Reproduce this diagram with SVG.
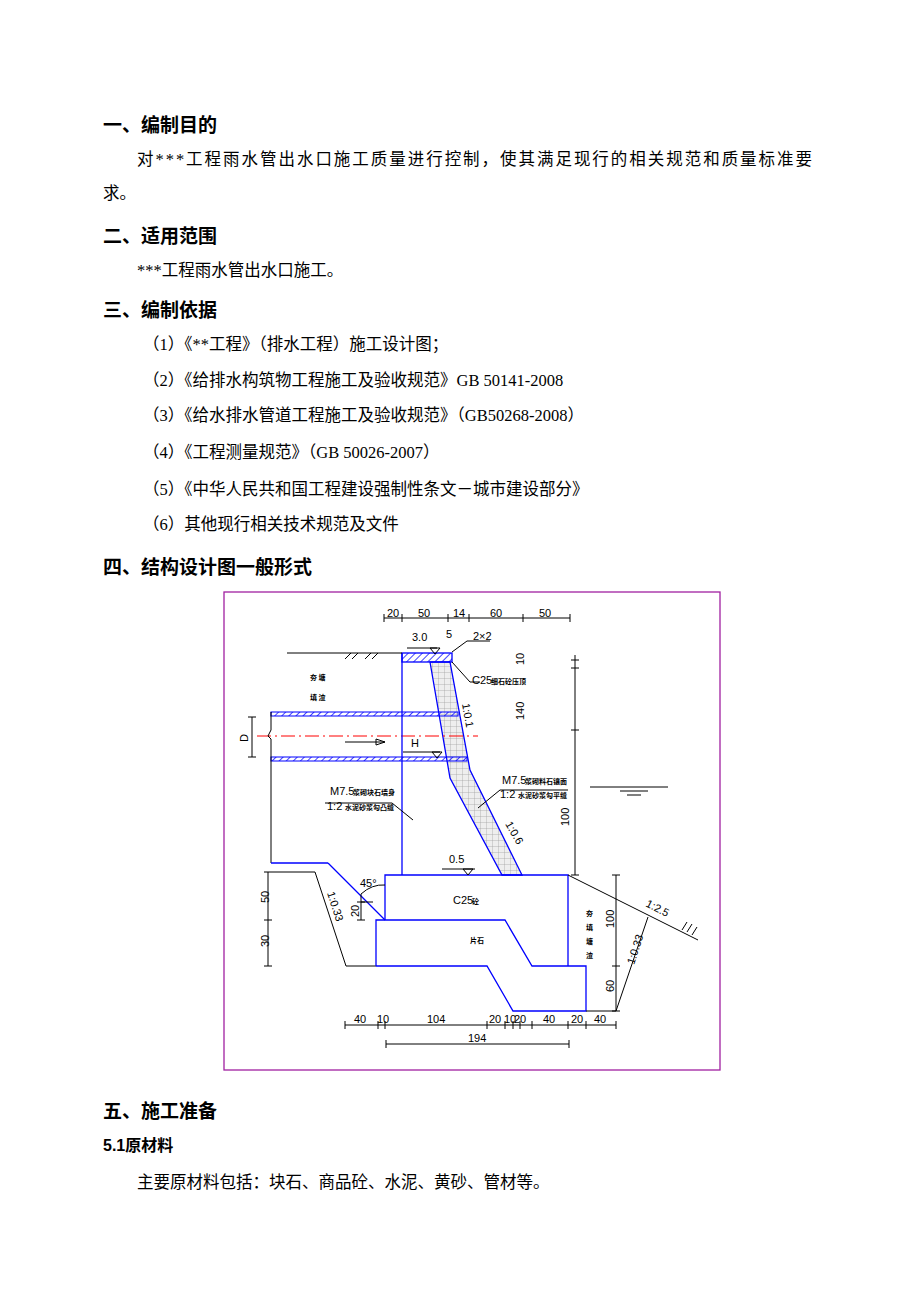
<svg xmlns="http://www.w3.org/2000/svg" width="920" height="1302" viewBox="0 0 920 1302">
<style>
.h{font-family:"Liberation Sans","Noto Sans CJK SC",sans-serif;font-weight:bold;font-size:19px;fill:#000}
.t{font-family:"Liberation Serif","Noto Sans CJK SC",serif;font-size:16.5px;fill:#000}
.d{font-family:"Liberation Sans Narrow","Liberation Sans",sans-serif;font-size:11px;fill:#000}
.s{font-family:"Noto Sans CJK SC",sans-serif;font-size:7px;font-weight:bold;fill:#000}
.k{stroke:#000;stroke-width:1;fill:none}
.b{stroke:#00f;stroke-width:1.3;fill:none}
</style>
<defs>
<pattern id="hat" width="5" height="5" patternUnits="userSpaceOnUse" patternTransform="rotate(45)"><line x1="0" y1="0" x2="0" y2="5" stroke="#00f" stroke-width="1.5"/></pattern>
<pattern id="grid" width="6" height="6" patternUnits="userSpaceOnUse"><rect width="6" height="6" fill="#eee"/><path d="M0 0H6M0 0V6" stroke="#999" stroke-width="0.7"/></pattern>
</defs>
<rect width="920" height="1302" fill="#fff"/>
<g id="text">
<text class="h" x="103" y="132">一、编制目的</text>
<text class="t" x="137" y="165" textLength="675" lengthAdjust="spacing">对***工程雨水管出水口施工质量进行控制，使其满足现行的相关规范和质量标准要</text>
<text class="t" x="103" y="199">求。</text>
<text class="h" x="103" y="243">二、适用范围</text>
<text class="t" x="137" y="276">***工程雨水管出水口施工。</text>
<text class="h" x="103" y="317">三、编制依据</text>
<text class="t" x="143" y="350">（1）《**工程》（排水工程）施工设计图；</text>
<text class="t" x="143" y="386">（2）《给排水构筑物工程施工及验收规范》GB 50141-2008</text>
<text class="t" x="143" y="421">（3）《给水排水管道工程施工及验收规范》（GB50268-2008）</text>
<text class="t" x="143" y="458">（4）《工程测量规范》（GB 50026-2007）</text>
<text class="t" x="143" y="495">（5）《中华人民共和国工程建设强制性条文－城市建设部分》</text>
<text class="t" x="143" y="530">（6）其他现行相关技术规范及文件</text>
<text class="h" x="103" y="574">四、结构设计图一般形式</text>
<text class="h" x="103" y="1118">五、施工准备</text>
<text class="h" x="103" y="1151" style="font-size:16px">5.1原材料</text>
<text class="t" x="137" y="1188">主要原材料包括：块石、商品砼、水泥、黄砂、管材等。</text>
</g>
<rect x="224" y="592" width="496" height="478" fill="none" stroke="#a020a0" stroke-width="1.3"/>
<g id="drawing">
<!-- top cap and revetment -->
<polygon points="430,662 450,778 502,875 522,875 470,770 450,662" fill="url(#grid)" stroke="#00f" stroke-width="1.3"/>
<rect x="402" y="653" width="50" height="9" fill="url(#hat)" stroke="#00f" stroke-width="1.3"/>
<!-- pipes -->
<rect x="271" y="712" width="187" height="4" fill="url(#hat)" stroke="#00f" stroke-width="1"/>
<rect x="271" y="757" width="196" height="4" fill="url(#hat)" stroke="#00f" stroke-width="1"/>
<line x1="257" y1="736" x2="478" y2="736" stroke="#f00" stroke-width="1" stroke-dasharray="14,4,2,4"/>
<line x1="402" y1="653" x2="402" y2="875" class="b"/>
<!-- ground -->
<line x1="287" y1="653" x2="402" y2="653" class="k"/>
<path d="M345 659l6-6M352 659l6-6M365 659l6-6M372 659l6-6" class="k"/>
<path d="M271 712V730l-3 6 3 3V863" class="k"/>
<line x1="271" y1="863" x2="328" y2="863" class="b"/>
<line x1="328" y1="863" x2="385" y2="920" class="b"/>
<path d="M272 872H315L346 966H376" class="k"/>
<!-- C25 and 片石 -->
<path d="M385 920V875H568V966" class="b"/>
<path d="M376 966V920H505L532 966H586V1011H513L487 966H376" class="b"/>
<line x1="568" y1="875" x2="698" y2="940" class="k"/>
<path d="M616 1011L648 917" class="k"/>
<path d="M586 1011H616" class="k"/>
<path d="M687 922l-5 8M692 924l-5 8M697 927l-5 8" class="k"/>
<!-- water -->
<path d="M590 787H668M620 791H648M627 795H641" class="k"/>
<!-- dims -->
<path d="M384 618H570M384 614v8M402 614v8M448 614v8M469 614v8M523 614v8M570 614v8" class="k"/>
<path d="M575 655V875M571 660h8M571 668h8M571 730h8M571 875h8" class="k"/>
<path d="M252 717V757M248 717h8M248 757h8" class="k"/>
<path d="M268 872V966M264 872h8M264 920h8M264 966h8" class="k"/>
<path d="M616 875V1011M612 875h8M612 966h8M612 1011h8" class="k"/>
<path d="M345 1025H616M345 1021v8M378 1021v8M385 1021v8M487 1021v8M505 1021v8M513 1021v8M520 1021v8M532 1021v8M568 1021v8M586 1021v8M616 1021v8" class="k"/>
<path d="M386 1044H569M386 1040v8M569 1040v8" class="k"/>
<path d="M361 894V920M357 920h8M357 902h8M361 902h12" class="k"/>
<path d="M361 894Q372 884 385 885" class="k"/>
<!-- level marks -->
<path d="M407 648H437M430 648l5 6 5-6z" class="k"/>
<path d="M403 752H440M432 752l5 6 5-6z" class="k"/>
<path d="M442 869H475M463 869l5 6 5-6z" class="k"/>
<path d="M345 742H385M376 739l9 3-9 3z" class="k"/>
<path d="M452 652L467 641H490M452 662L470 682H480M392 803L413 820M325 803H392M500 790L478 808M500 790H568" class="k"/>
</g>
<g id="labels">
<text class="d" x="387" y="617">20</text><text class="d" x="418" y="617">50</text><text class="d" x="453" y="617">14</text><text class="d" x="490" y="617">60</text><text class="d" x="539" y="617">50</text>
<text class="d" x="412" y="641">3.0</text><text class="d" x="446" y="638">5</text><text class="d" x="473" y="640">2×2</text>
<text class="d" x="472" y="684">C25</text><text class="s" x="491" y="684">细石砼压顶</text>
<text class="d" transform="translate(524,665) rotate(-90)">10</text>
<text class="d" transform="translate(524,720) rotate(-90)">140</text>
<text class="d" transform="translate(569,826) rotate(-90)">100</text>
<text class="s" x="310" y="680">夯  塘</text><text class="s" x="310" y="700">填  渣</text>
<text class="d" transform="translate(462,704) rotate(80)">1:0.1</text>
<text class="d" x="411" y="747">H</text>
<text class="d" transform="translate(248,742) rotate(-90)">D</text>
<text class="d" x="330" y="795">M7.5</text><text class="s" x="353" y="795">浆砌块石墙身</text>
<text class="d" x="327" y="810">1:2</text><text class="s" x="345" y="810">水泥砂浆勾凸缝</text>
<text class="d" x="502" y="784">M7.5</text><text class="s" x="525" y="784">浆砌料石镶面</text>
<text class="d" x="500" y="798">1:2</text><text class="s" x="518" y="798">水泥砂浆勾平缝</text>
<text class="d" transform="translate(505,824) rotate(60)">1:0.6</text>
<text class="d" x="449" y="863">0.5</text>
<text class="d" x="360" y="887">45°</text>
<text class="d" transform="translate(269,903) rotate(-90)">50</text>
<text class="d" transform="translate(359,917) rotate(-90)">20</text>
<text class="d" transform="translate(269,947) rotate(-90)">30</text>
<text class="d" transform="translate(327,893) rotate(72)">1:0.33</text>
<text class="d" x="453" y="904">C25</text><text class="s" x="472" y="904">砼</text>
<text class="s" x="470" y="943">片石</text>
<text class="s" x="586" y="916">夯</text><text class="s" x="586" y="930">填</text><text class="s" x="586" y="944">塘</text><text class="s" x="586" y="958">渣</text>
<text class="d" transform="translate(614,928) rotate(-90)">100</text>
<text class="d" transform="translate(614,992) rotate(-90)">60</text>
<text class="d" transform="translate(634,965) rotate(-72)">1:0.33</text>
<text class="d" transform="translate(645,906) rotate(27)">1:2.5</text>
<text class="d" x="354" y="1023">40</text><text class="d" x="377" y="1023">10</text><text class="d" x="427" y="1023">104</text><text class="d" x="489" y="1023">20</text><text class="d" x="504" y="1023">10</text><text class="d" x="514" y="1023">20</text><text class="d" x="543" y="1023">40</text><text class="d" x="571" y="1023">20</text><text class="d" x="594" y="1023">40</text>
<text class="d" x="468" y="1042">194</text>
</g>
</svg>
